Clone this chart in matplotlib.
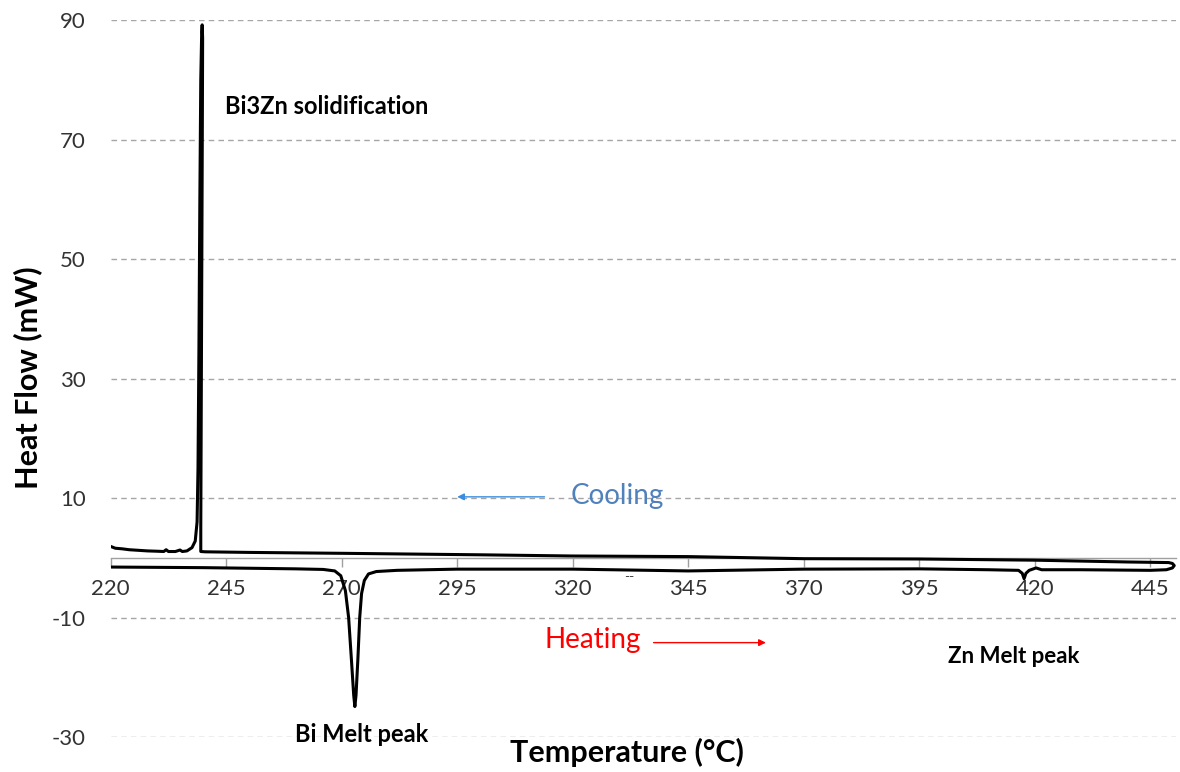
import matplotlib
matplotlib.use("Agg")
from matplotlib import pyplot as plt
import numpy as np

plt.rcParams['font.family'] = ['Lato', 'DejaVu Sans']
plt.rcParams['axes.unicode_minus'] = False

# heating run (Bi melt dip near 273, small Zn dip near 418), ends with the turn-around loop
heating_temp = [220, 230, 240, 250, 260, 266, 268.5, 269.8, 270.8, 271.5, 272.1, 272.6,
                272.85, 273.1, 273.5, 273.9, 274.3, 274.9, 275.8, 277.5, 282, 295, 320,
                345, 370, 395, 410, 416.5, 417.3, 417.7, 418.1, 418.8, 420.3, 421.5, 430,
                445, 448.5, 449.8, 450.2, 449.8]
heating_flow = [-1.55, -1.6, -1.65, -1.75, -1.85, -1.95, -2.2, -3.0, -5.5, -10, -17, -23,
                -24.9, -23, -17, -10, -6, -3.8, -2.7, -2.3, -2.1, -1.9, -1.9,
                -2.2, -1.9, -1.85, -2.0, -2.1, -2.6, -3.5, -2.6, -2.1, -1.7, -2.0, -2.0,
                -2.1, -2.0, -1.7, -1.3, -0.95]

# cooling run (Bi3Zn solidification spike near 240)
cooling_temp = [449, 440, 420, 395, 370, 345, 320, 300, 270, 250, 240.5, 239.5, 239.5,
                239.55, 239.65, 239.75, 239.85, 239.9, 239.8, 239.7, 239.5, 239.3, 239.1,
                238.9, 238.7, 238.3, 237.6, 236.5, 235.5, 235, 234, 232.5, 232, 231.5,
                230, 228, 226, 224, 222.5, 221, 220]
cooling_flow = [-0.8, -0.7, -0.4, -0.2, -0.15, 0.2, 0.3, 0.5, 0.75, 0.9, 1.0, 1.05, 5,
                15, 35, 55, 75, 87, 89.2, 88, 80, 60, 35,
                15, 6, 2.8, 1.7, 1.15, 1.05, 1.3, 1.05, 1.05, 1.35, 1.05,
                1.1, 1.15, 1.25, 1.35, 1.5, 1.6, 1.9]

x_ticks = [220, 245, 270, 295, 320, 345, 370, 395, 420, 445]
y_ticks = [-30, -10, 10, 30, 50, 70, 90]

fig = plt.figure(figsize=(11.8, 7.72), dpi=100)
ax = fig.add_axes([0.0938, 0.0453, 0.9025, 0.9287])

ax.plot(heating_temp + cooling_temp, heating_flow + cooling_flow, color='black', lw=2.2,
        solid_joinstyle='round', zorder=3)

ax.set_xlim(220, 450.5)
ax.set_ylim(-30, 90)
ax.set_xticks(x_ticks)
ax.set_yticks(y_ticks)
ax.grid(axis='y', color='#a6a6a6', linestyle=(0, (4, 3)), lw=1)
ax.grid(axis='x', visible=False)

for s in ['top', 'right', 'left']:
    ax.spines[s].set_visible(False)
ax.spines['bottom'].set_position(('data', 0))
ax.spines['bottom'].set_color('#a0a0a0')
ax.spines['bottom'].set_linewidth(1)

ax.tick_params(axis='x', direction='out', length=6.5, width=1, color='#a0a0a0',
               labelsize=16, pad=9, labelcolor='#333333')
ax.tick_params(axis='y', length=0, labelsize=16, pad=18, labelcolor='#333333')

# axis titles
fig.text(28 / 1180, 1 - 378 / 772, 'Heat Flow (mW)', rotation=90, fontsize=22,
         fontweight='bold', ha='center', va='center')
fig.text(627 / 1180, 1 - 752 / 772, 'Temperature (°C)', fontsize=22,
         fontweight='bold', ha='center', va='center')

# annotations
ax.text(266.7, 75.6, 'Bi3Zn solidification', fontsize=17, fontweight='bold',
        ha='center', va='center')
ax.text(274.3, -29.6, 'Bi Melt peak', fontsize=17, fontweight='bold',
        ha='center', va='center')
ax.text(415.5, -16.6, 'Zn Melt peak', fontsize=16, fontweight='bold',
        ha='center', va='center')
ax.text(319.6, 10.3, 'Cooling', fontsize=20, color='#4f81bd', ha='left', va='center')
ax.text(314.0, -13.7, 'Heating', fontsize=20, color='#ff0000', ha='left', va='center')
ax.text(332.3, -3.3, '--', fontsize=10, color='#404040', ha='center', va='center')

ax.annotate('', xy=(294.4, 10.2), xytext=(314.5, 10.2),
            arrowprops=dict(arrowstyle='-|>', color='#3a8dde', lw=1, mutation_scale=10))
ax.annotate('', xy=(362.4, -14.2), xytext=(336.9, -14.2),
            arrowprops=dict(arrowstyle='-|>', color='#ff0000', lw=1, mutation_scale=10))

fig.savefig('out.png', dpi=100)
